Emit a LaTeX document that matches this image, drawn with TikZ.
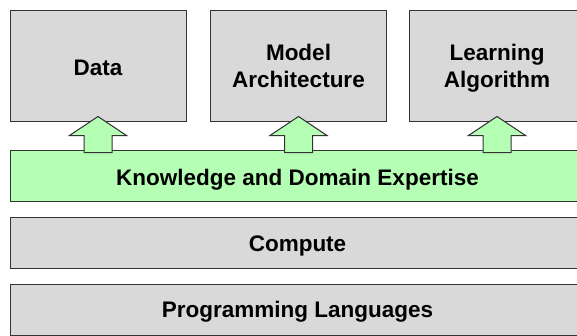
\documentclass[tikz,border=0pt]{standalone}
\usepackage{fontspec}
\setmainfont{Liberation Sans}
\usetikzlibrary{positioning}
\definecolor{boxgray}{HTML}{D9D9D9}
\definecolor{lightgreen}{HTML}{B5FFB5}
\tikzset{
  labelfont/.style={font=\fontsize{22.5}{27}\selectfont\bfseries},
  topbox/.style={draw=black!80, fill=boxgray, line width=1pt, minimum width=176pt, minimum height=111pt, inner sep=0pt, align=center, labelfont},
  layerbar/.style={draw=black!80, fill=boxgray, line width=1pt, minimum width=580pt, minimum height=51pt, inner sep=0pt},
  blockarrow/.style={draw=black!80, fill=lightgreen, line width=1pt}
}
\begin{document}
\begin{tikzpicture}[x=1pt,y=-1pt]
\useasboundingbox (0,0) rectangle (577,335);
\clip (0,0) rectangle (577,335);

% Top row of boxes
\node[topbox] (data) at (98,65.5) {};
\node[topbox] (model) at (298.5,65.5) {};
\node[topbox] (learn) at (497,65.5) {};
\node[labelfont] (datatext) at (98,67.5) {Data};
\node[labelfont, align=center] (modeltext) at (298.5,65.5) {Model\\Architecture};
\node[labelfont, align=center] (learntext) at (497,68.5) {Learning\\Algorithm};

% Layers underneath
\node[layerbar, fill=lightgreen, anchor=north west] (know) at (10,150) {};
\node[layerbar, anchor=north west] (compute) at (10,217) {};
\node[layerbar, anchor=north west] (lang) at (10,284) {};

\node[labelfont] (knowtext) at (297.5,179.5) {Knowledge and Domain Expertise};
\node[labelfont] (computetext) at (297.5,245.5) {Compute};
\node[labelfont] (langtext) at (297.5,311.5) {Programming Languages};

% Block arrows from the green layer up to each box
\foreach \b in {data, model, learn} {
  \draw[blockarrow] (\b.south) ++(0,-5) -- ++(28.5,19) -- ++(-14.5,0) -- ++(0,17)
    -- ++(-28,0) -- ++(0,-17) -- ++(-14.5,0) -- cycle;
}
\end{tikzpicture}
\end{document}
